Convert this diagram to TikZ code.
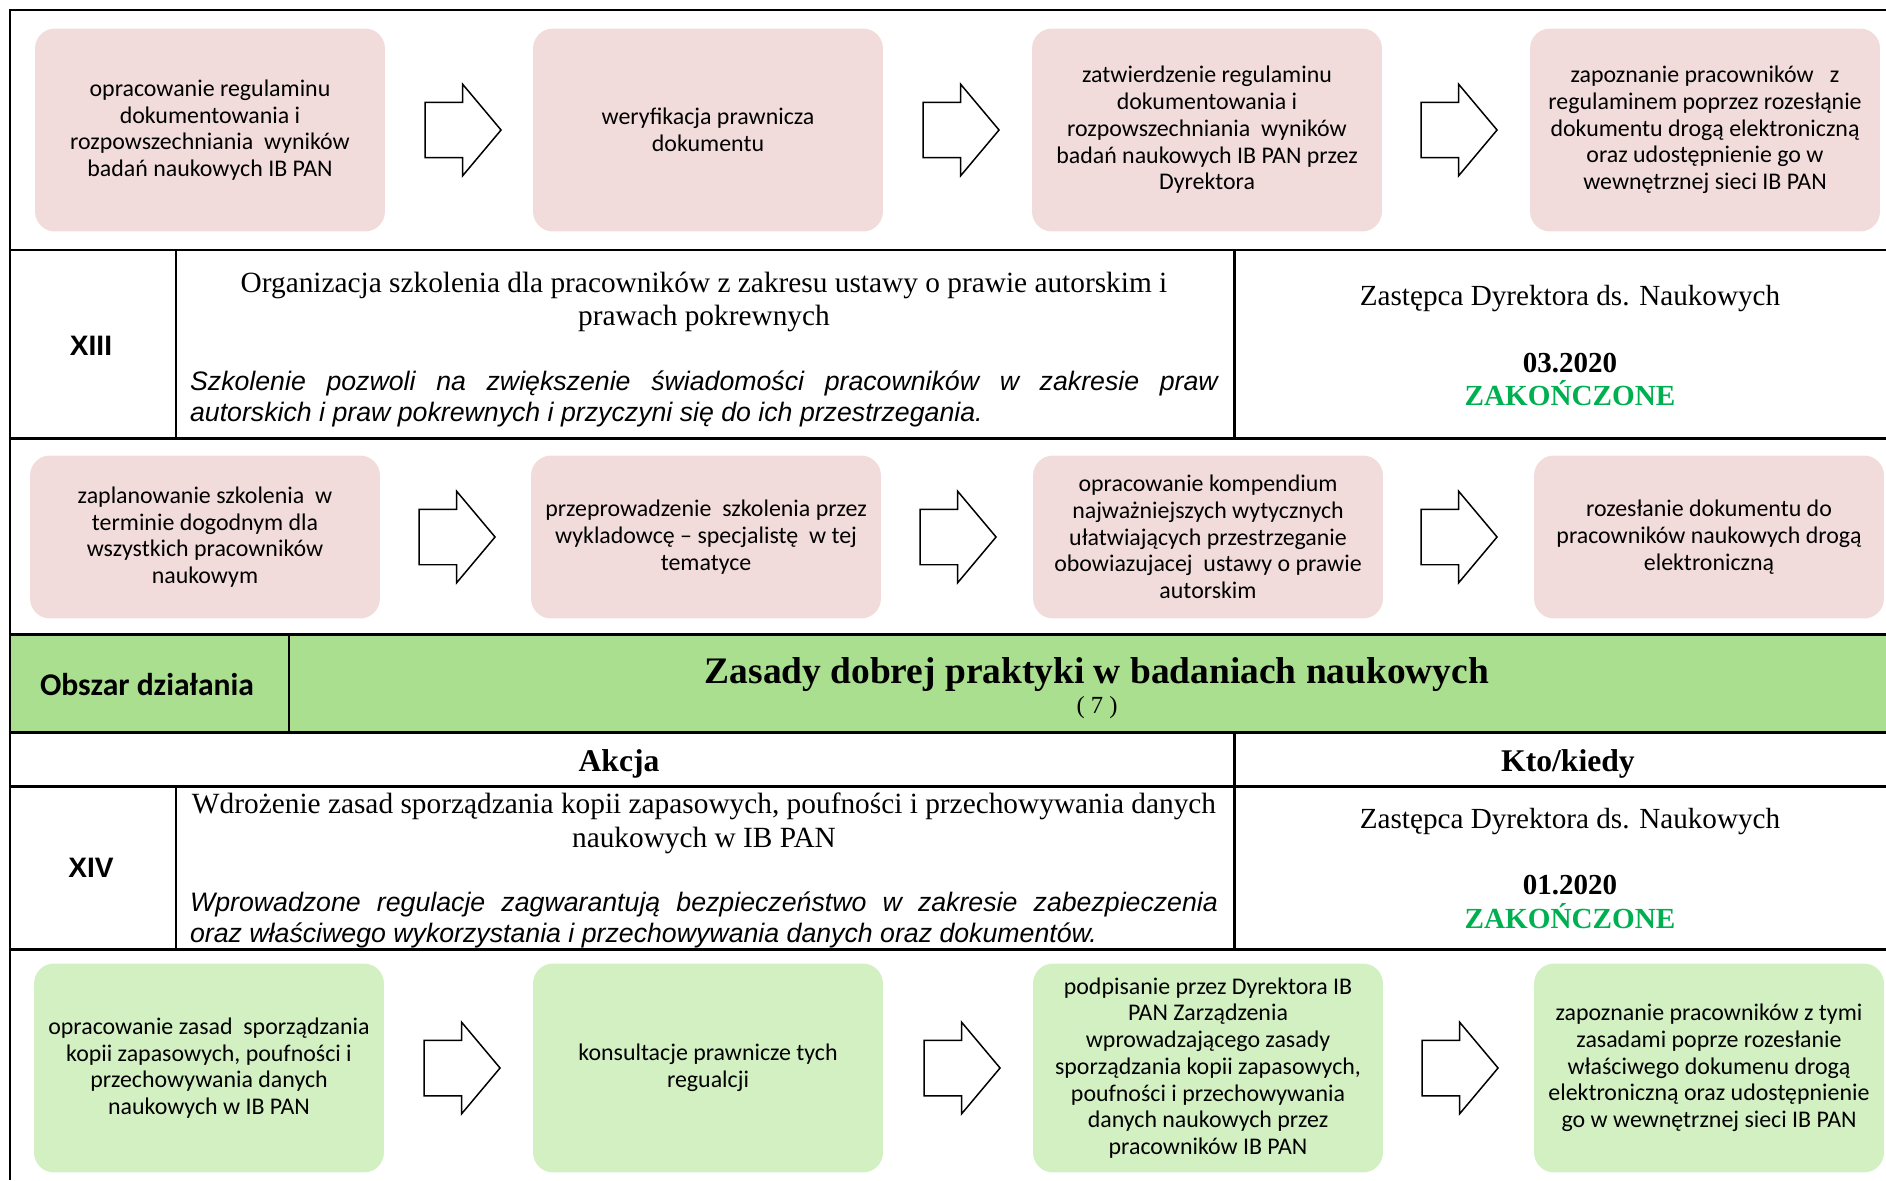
\documentclass[tikz,border=0pt]{standalone}
\usepackage{fontspec}
\setmainfont{Liberation Serif}
\newfontfamily\calibrif{Carlito}
\newfontfamily\arialf{Liberation Sans}
\usetikzlibrary{positioning,shapes.arrows}
\definecolor{roz}{HTML}{F2DCDB}
\definecolor{ziel}{HTML}{D3F0C3}
\definecolor{pasek}{HTML}{A9DF8F}
\definecolor{gotowe}{HTML}{00B050}
\begin{document}
\begin{tikzpicture}[x=0.02cm,y=-0.02cm,
    tabela/.style={line width=1.7pt},
    krok/.style={rounded corners=0.4cm, minimum width=7cm, align=center, inner sep=2pt,
      font=\calibrif\fontsize{13.6}{15.2}\selectfont},
    strzalka/.style={single arrow, draw, fill=white, line width=0.85pt, minimum height=1.52cm,
      single arrow head extend=0.36cm, single arrow tip angle=100, inner xsep=0pt, inner ysep=0.54cm},
    numer/.style={font=\arialf\bfseries\fontsize{16}{19}\selectfont},
    tytul/.style={align=center, font=\fontsize{16.7}{19.3}\selectfont},
    opis/.style={text width=20.56cm, align=justify, inner sep=0pt, font=\arialf\itshape\fontsize{15.2}{17.6}\selectfont},
    kto/.style={font=\fontsize{16.6}{19}\selectfont},
    data/.style={font=\bfseries\fontsize{16.5}{19}\selectfont},
    stan/.style={text=gotowe, font=\bfseries\fontsize{16.6}{19}\selectfont},
    naglowek/.style={font=\bfseries\fontsize{18}{21}\selectfont}]
  \useasboundingbox (0,0) rectangle (1886,1180);
  \fill[pasek] (10,634) rectangle (1886,732);
  \draw[tabela] (10,1180) -- (10,10) -- (1886,10);
  \foreach \y in {250,438,634,732,786,949}
    \draw[tabela] (10,\y) -- (1886,\y);
  \draw[tabela] (176,250) -- (176,438);
  \draw[tabela] (176,786) -- (176,949);
  \draw[tabela] (289,634) -- (289,732);
  \draw[tabela] (1234,250) -- (1234,438);
  \draw[tabela] (1234,732) -- (1234,949);

  \node[krok, fill=roz, minimum height=4.06cm] (a1) at (210,130) {opracowanie regulaminu\\dokumentowania i\\rozpowszechniania\ \ wyników\\badań naukowych IB PAN};
  \node[krok, fill=roz, minimum height=4.06cm] (a2) at (708,130) {weryfikacja prawnicza\\dokumentu};
  \node[krok, fill=roz, minimum height=4.06cm] (a3) at (1207,130) {zatwierdzenie regulaminu\\dokumentowania i\\rozpowszechniania\ \ wyników\\badań naukowych IB PAN przez\\Dyrektora};
  \node[krok, fill=roz, minimum height=4.06cm] (a4) at (1705,130) {zapoznanie pracowników\ \ \ z\\regulaminem poprzez rozesłąnie\\dokumentu drogą elektroniczną\\oraz udostępnienie go w\\wewnętrznej sieci IB PAN};
  \node[strzalka, right=0.78cm of a1] (sa1) {};
  \node[strzalka, right=0.78cm of a2] (sa2) {};
  \node[strzalka, right=0.76cm of a3] (sa3) {};

  \node[numer] (n13) at (91,346) {XIII};
  \node[tytul] (t13) at (704,302) {Organizacja szkolenia dla pracowników z zakresu ustawy o prawie autorskim i\\prawach pokrewnych};
  \node[opis] (o13) at (704,399) {Szkolenie pozwoli na zwiększenie świadomości pracowników w zakresie praw\linebreak autorskich i praw pokrewnych i przyczyni się do ich przestrzegania.};
  \node[kto] (k13) at (1570,299) {Zastępca Dyrektora ds. Naukowych};
  \node[data] (d13) at (1570,363) {03.2020};
  \node[stan] (z13) at (1570,393) {ZAKOŃCZONE};

  \node[krok, fill=roz, minimum height=3.26cm] (b1) at (205,537) {zaplanowanie szkolenia\ \ w\\terminie dogodnym dla\\wszystkich pracowników\\naukowym};
  \node[krok, fill=roz, minimum height=3.26cm] (b2) at (706,537) {przeprowadzenie\ \ szkolenia przez\\wykladowcę – specjalistę\ \ w tej\\tematyce};
  \node[krok, fill=roz, minimum height=3.26cm] (b3) at (1208,537) {opracowanie kompendium\\najważniejszych wytycznych\\ułatwiających przestrzeganie\\obowiazujacej\ \ ustawy o prawie\\autorskim};
  \node[krok, fill=roz, minimum height=3.26cm] (b4) at (1709,537) {rozesłanie dokumentu do\\pracowników naukowych drogą\\elektroniczną};
  \node[strzalka, right=0.76cm of b1] (sb1) {};
  \node[strzalka, right=0.76cm of b2] (sb2) {};
  \node[strzalka, right=0.74cm of b3] (sb3) {};

  \node[font=\calibrif\bfseries\fontsize{18}{21}\selectfont] (obs) at (147,685) {Obszar działania};
  \node[font=\bfseries\fontsize{21.3}{25}\selectfont] (zas) at (1097,675) {Zasady dobrej praktyki w badaniach naukowych};
  \node[font=\fontsize{14}{16}\selectfont] (nr) at (1097,708) {( 7 )};
  \node[naglowek] (akc) at (619,764) {Akcja};
  \node[naglowek] (ktk) at (1568,764) {Kto/kiedy};

  \node[numer] (n14) at (91,868) {XIV};
  \node[tytul] (t14) at (704,823) {Wdrożenie zasad sporządzania kopii zapasowych, poufności i przechowywania danych\\naukowych w IB PAN};
  \node[opis] (o14) at (704,920) {Wprowadzone regulacje zagwarantują bezpieczeństwo w zakresie zabezpieczenia\linebreak oraz właściwego wykorzystania i przechowywania danych oraz dokumentów.};
  \node[kto] (k14) at (1570,822) {Zastępca Dyrektora ds. Naukowych};
  \node[data] (d14) at (1570,885) {01.2020};
  \node[stan] (z14) at (1570,916) {ZAKOŃCZONE};

  \node[krok, fill=ziel, minimum height=4.18cm] (c1) at (209,1068) {opracowanie zasad\ \ sporządzania\\kopii zapasowych, poufności i\\przechowywania danych\\naukowych w IB PAN};
  \node[krok, fill=ziel, minimum height=4.18cm] (c2) at (708,1068) {konsultacje prawnicze tych\\regualcji};
  \node[krok, fill=ziel, minimum height=4.18cm] (c3) at (1208,1068) {podpisanie przez Dyrektora IB\\PAN Zarządzenia\\wprowadzającego zasady\\sporządzania kopii zapasowych,\\poufności i przechowywania\\danych naukowych przez\\pracowników IB PAN};
  \node[krok, fill=ziel, minimum height=4.18cm] (c4) at (1709,1068) {zapoznanie pracowników z tymi\\zasadami poprze rozesłanie\\właściwego dokumenu drogą\\elektroniczną oraz udostępnienie\\go w wewnętrznej sieci IB PAN};
  \node[strzalka, right=0.78cm of c1] (sc1) {};
  \node[strzalka, right=0.8cm of c2] (sc2) {};
  \node[strzalka, right=0.76cm of c3] (sc3) {};
\end{tikzpicture}
\end{document}
